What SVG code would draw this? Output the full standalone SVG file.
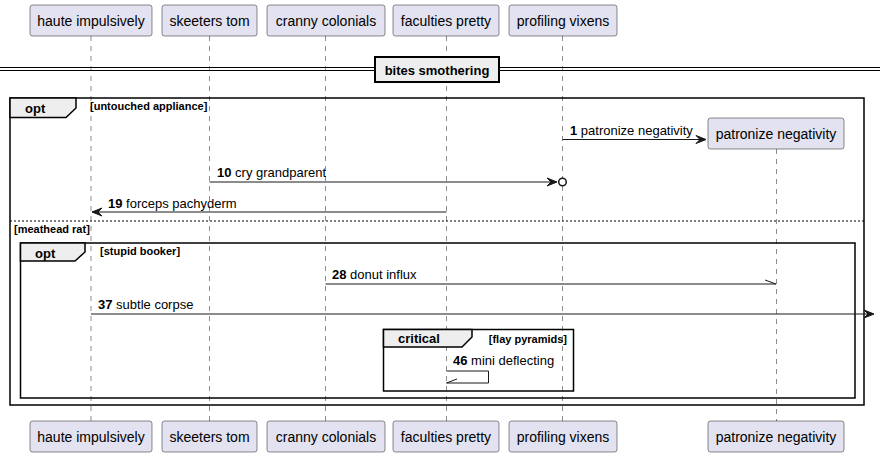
<svg xmlns="http://www.w3.org/2000/svg" width="880" height="457" viewBox="0 0 880 457">
<style>
.pbox{fill:#E2E2F0;stroke:#181818;stroke-width:0.5}
.ptxt{font-family:"Liberation Sans",Arial,sans-serif;font-size:14px;fill:#000;text-anchor:middle}
.life{stroke:#181818;stroke-width:0.5;stroke-dasharray:5,5;fill:none}
.msg{stroke:#181818;stroke-width:1;fill:none}
.head{fill:#181818;stroke:#181818;stroke-width:1}
.mtxt{font-family:"Liberation Sans",Arial,sans-serif;font-size:13px;fill:#000}
.frame{fill:none;stroke:#000;stroke-width:1.5}
.tab{fill:#EEEEEE;stroke:#000;stroke-width:1.5}
.ftxt{font-family:"Liberation Sans",Arial,sans-serif;font-size:13px;font-weight:bold;fill:#000}
.cond{font-family:"Liberation Sans",Arial,sans-serif;font-size:11px;font-weight:bold;fill:#000}
</style>
<rect width="880" height="457" fill="#FFFFFF"/>
<g id="lifelines">
<line class="life" x1="91" y1="36" x2="91" y2="421"/>
<line class="life" x1="209.5" y1="36" x2="209.5" y2="421"/>
<line class="life" x1="325.5" y1="36" x2="325.5" y2="421"/>
<line class="life" x1="446.5" y1="36" x2="446.5" y2="421"/>
<line class="life" x1="562.5" y1="36" x2="562.5" y2="421"/>
<line class="life" x1="776.5" y1="149" x2="776.5" y2="421"/>
</g>
<g id="divider">
<line x1="0" y1="67.5" x2="880" y2="67.5" stroke="#000" stroke-width="1"/>
<line x1="0" y1="70.5" x2="880" y2="70.5" stroke="#000" stroke-width="1"/>
<rect x="375" y="57" width="124" height="25" fill="#EEEEEE" stroke="#000" stroke-width="2"/>
<text class="ftxt" x="437" y="74.5" text-anchor="middle">bites smothering</text>
</g>
<g id="frame-opt-outer">
<rect class="frame" x="10" y="98" width="854" height="307"/>
<path class="tab" d="M10,98 L76,98 L76,108 L66,117.5 L10,117.5 Z"/>
<text class="ftxt" x="25" y="113">opt</text>
<text class="cond" x="90" y="110">[untouched appliance]</text>
<line x1="10" y1="221" x2="864" y2="221" stroke="#000" stroke-width="1" stroke-dasharray="2,2"/>
<text class="cond" x="14" y="233">[meathead rat]</text>
</g>
<g id="frame-opt-inner">
<rect class="frame" x="20.5" y="243" width="834.5" height="155"/>
<path class="tab" d="M20.5,243 L85,243 L85,252 L75,261 L20.5,261 Z"/>
<text class="ftxt" x="35" y="258">opt</text>
<text class="cond" x="100" y="255">[stupid booker]</text>
</g>
<g id="frame-critical">
<rect class="frame" x="383.5" y="329.5" width="190" height="61.5"/>
<path class="tab" d="M383.5,329.5 L472,329.5 L472,337 L462,347 L383.5,347 Z"/>
<text class="ftxt" x="398" y="343">critical</text>
<text class="cond" x="567" y="343" text-anchor="end">[flay pyramids]</text>
</g>
<g id="connectors">
<line class="msg" x1="562.5" y1="139.5" x2="705" y2="139.5"/>
<polygon class="head" points="706,139.5 696,135.5 700,139.5 696,143.5"/>
<text class="mtxt" x="570" y="135"><tspan font-weight="bold">1</tspan> patronize negativity</text>

<line class="msg" x1="209.5" y1="182" x2="556" y2="182"/>
<polygon class="head" points="557,182 547,178 551,182 547,186"/>
<circle cx="562.5" cy="182" r="3.8" fill="#FFFFFF" stroke="#181818" stroke-width="1.5"/>
<text class="mtxt" x="217" y="177"><tspan font-weight="bold">10</tspan> cry grandparent</text>

<line class="msg" x1="446.5" y1="212" x2="92" y2="212"/>
<polygon class="head" points="92,212 102,208 98,212 102,216"/>
<text class="mtxt" x="108" y="208"><tspan font-weight="bold">19</tspan> forceps pachyderm</text>

<line class="msg" x1="325.5" y1="284" x2="776" y2="284"/>
<line class="msg" x1="765" y1="280" x2="776" y2="284"/>
<text class="mtxt" x="332" y="279"><tspan font-weight="bold">28</tspan> donut influx</text>

<line class="msg" x1="91" y1="314" x2="872" y2="314"/>
<polygon class="head" points="874,314 864,310 868,314 864,318"/>
<text class="mtxt" x="98" y="309"><tspan font-weight="bold">37</tspan> subtle corpse</text>

<polyline class="msg" points="446.5,371 488.5,371 488.5,383 446.5,383"/>
<line class="msg" x1="446.5" y1="383" x2="457" y2="379"/>
<text class="mtxt" x="453" y="365"><tspan font-weight="bold">46</tspan> mini deflecting</text>
</g>
<g id="p-haute-impulsively">
<rect class="pbox" x="30" y="5" width="122" height="31" rx="2.5"/>
<text class="ptxt" x="91" y="25.5">haute impulsively</text>
<rect class="pbox" x="30" y="421" width="122" height="31" rx="2.5"/>
<text class="ptxt" x="91" y="441.5">haute impulsively</text>
</g>
<g id="p-skeeters-tom">
<rect class="pbox" x="162" y="5" width="95" height="31" rx="2.5"/>
<text class="ptxt" x="209.5" y="25.5">skeeters tom</text>
<rect class="pbox" x="162" y="421" width="95" height="31" rx="2.5"/>
<text class="ptxt" x="209.5" y="441.5">skeeters tom</text>
</g>
<g id="p-cranny-colonials">
<rect class="pbox" x="267" y="5" width="118" height="31" rx="2.5"/>
<text class="ptxt" x="326" y="25.5">cranny colonials</text>
<rect class="pbox" x="267" y="421" width="118" height="31" rx="2.5"/>
<text class="ptxt" x="326" y="441.5">cranny colonials</text>
</g>
<g id="p-faculties-pretty">
<rect class="pbox" x="393" y="5" width="106" height="31" rx="2.5"/>
<text class="ptxt" x="446" y="25.5">faculties pretty</text>
<rect class="pbox" x="393" y="421" width="106" height="31" rx="2.5"/>
<text class="ptxt" x="446" y="441.5">faculties pretty</text>
</g>
<g id="p-profiling-vixens">
<rect class="pbox" x="509" y="5" width="108" height="31" rx="2.5"/>
<text class="ptxt" x="563" y="25.5">profiling vixens</text>
<rect class="pbox" x="509" y="421" width="108" height="31" rx="2.5"/>
<text class="ptxt" x="563" y="441.5">profiling vixens</text>
</g>
<g id="p-patronize-negativity">
<rect class="pbox" x="708" y="118" width="136" height="31" rx="2.5"/>
<text class="ptxt" x="776" y="138.5">patronize negativity</text>
<rect class="pbox" x="708" y="421" width="136" height="31" rx="2.5"/>
<text class="ptxt" x="776" y="441.5">patronize negativity</text>
</g>
</svg>
